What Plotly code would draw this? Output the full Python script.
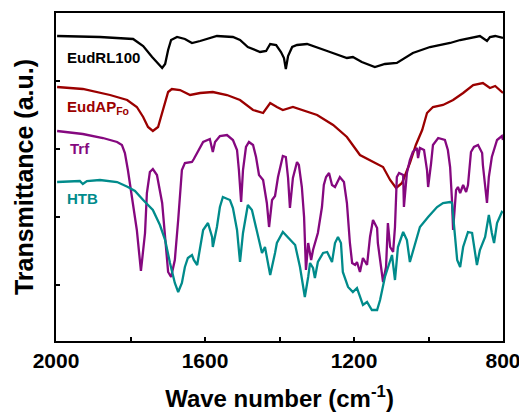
import plotly.graph_objects as go

# ---- data (wavenumber cm^-1, transmittance a.u.) ----
eud_rl_w = [1997, 1882, 1793, 1766, 1742, 1729, 1715, 1707, 1699, 1691, 1675, 1654, 1635, 1613, 1568, 1525,
            1506, 1485, 1452, 1436, 1425, 1409, 1396, 1388, 1383, 1377, 1366, 1353, 1326, 1272, 1219, 1203,
            1179, 1144, 1117, 1085, 1042, 996, 969, 942, 915, 880, 862, 843, 835, 821, 800]
eud_rl_t = [305, 304, 302, 295, 284, 279, 273, 277, 291, 301, 304, 302, 298, 300, 305, 304,
            301, 294, 289, 290, 297, 296, 289, 283, 272, 285, 294, 296, 297, 290, 283, 284,
            279, 274, 277, 278, 288, 294, 296, 298, 301, 304, 305, 300, 304, 305, 303]

eud_ap_w = [1997, 1928, 1855, 1809, 1783, 1766, 1753, 1740, 1726, 1713, 1699, 1689, 1667, 1640, 1613, 1579,
            1541, 1506, 1471, 1444, 1425, 1407, 1391, 1364, 1337, 1299, 1256, 1219, 1184, 1149, 1122, 1103,
            1087, 1071, 1050, 1034, 1017, 1004, 988, 961, 934, 907, 880, 854, 835, 821, 800]
eud_ap_t = [254, 252, 246, 241, 234, 224, 214, 210, 214, 231, 249, 252, 251, 246, 248, 249,
            246, 241, 231, 228, 238, 234, 231, 234, 231, 226, 216, 204, 186, 179, 174, 161,
            153, 158, 178, 196, 211, 228, 234, 236, 241, 248, 256, 258, 253, 255, 248]

trf_w = [1997, 1928, 1874, 1836, 1823, 1815, 1807, 1796, 1783, 1772, 1761, 1756, 1748, 1740, 1729, 1715,
         1707, 1699, 1691, 1681, 1672, 1662, 1654, 1635, 1630, 1619, 1605, 1587, 1579, 1573, 1560, 1541,
         1525, 1514, 1509, 1503, 1498, 1490, 1482, 1471, 1463, 1455, 1444, 1434, 1428, 1420, 1412, 1404,
         1391, 1383, 1377, 1372, 1364, 1353, 1348, 1340, 1334, 1329, 1323, 1315, 1310, 1297, 1286, 1281,
         1275, 1267, 1259, 1251, 1238, 1227, 1219, 1211, 1205, 1197, 1192, 1184, 1176, 1165, 1157, 1149,
         1138, 1136, 1125, 1122, 1114, 1109, 1103, 1095, 1090, 1085, 1079, 1068, 1066, 1058, 1050, 1042,
         1031, 1028, 1023, 1012, 1004, 1001, 993, 988, 974, 956, 948, 942, 937, 934, 926, 921,
         915, 907, 899, 894, 886, 878, 867, 856, 854, 843, 838, 830, 816, 803, 800]
trf_t = [210, 207, 203, 199, 196, 188, 171, 144, 111, 70, 108, 148, 169, 172, 166, 138,
         104, 69, 64, 81, 121, 171, 178, 179, 182, 189, 199, 202, 189, 199, 205, 206,
         201, 191, 171, 139, 171, 194, 199, 196, 184, 166, 161, 138, 114, 141, 145, 164,
         185, 184, 163, 133, 163, 179, 176, 154, 124, 71, 98, 81, 91, 108, 134, 156,
         164, 168, 156, 154, 164, 159, 138, 98, 78, 76, 79, 69, 83, 76, 104, 121,
         113, 98, 64, 59, 74, 118, 94, 89, 114, 164, 168, 166, 134, 168, 181, 189,
         193, 183, 193, 191, 171, 154, 178, 196, 203, 201, 191, 174, 141, 111, 151, 154,
         148, 156, 149, 156, 189, 194, 196, 188, 176, 138, 164, 184, 201, 205, 201]

htb_w = [1997, 1962, 1936, 1928, 1917, 1882, 1836, 1807, 1788, 1766, 1740, 1721, 1707, 1694, 1681, 1672,
         1662, 1654, 1646, 1635, 1630, 1621, 1613, 1605, 1592, 1581, 1579, 1568, 1560, 1552, 1533, 1525,
         1514, 1506, 1498, 1485, 1474, 1460, 1447, 1439, 1425, 1412, 1407, 1391, 1372, 1358, 1345, 1332,
         1323, 1318, 1310, 1305, 1297, 1283, 1272, 1259, 1251, 1243, 1235, 1230, 1216, 1203, 1192, 1184,
         1176, 1165, 1152, 1138, 1130, 1117, 1103, 1098, 1090, 1082, 1068, 1058, 1050, 1039, 1023, 1001,
         977, 961, 942, 937, 932, 923, 915, 907, 894, 883, 870, 862, 848, 838, 830, 824, 816, 803, 800]
htb_t = [159, 160, 160, 157, 160, 161, 159, 154, 150, 141, 131, 116, 101, 78, 58, 49,
         58, 74, 83, 86, 81, 76, 94, 111, 118, 104, 94, 114, 134, 144, 141, 133,
         111, 79, 108, 136, 131, 108, 88, 94, 66, 88, 98, 109, 101, 96, 74, 44,
         64, 78, 73, 63, 79, 88, 89, 79, 98, 104, 98, 69, 54, 49, 53, 44,
         36, 39, 31, 31, 41, 64, 81, 86, 61, 94, 109, 101, 79, 94, 114, 124,
         134, 138, 139, 138, 118, 81, 74, 94, 109, 108, 76, 91, 104, 126, 108, 98, 118, 129, 128]

series_names = ["EudRL100", "EudAP<sub>Fo</sub>", "Trf", "HTB"]
series_colors = ["#000000", "#9B0000", "#85087F", "#008B8B"]
label_pos = [(1976, 284), (1976, 234), (1968, 193), (1976, 143)]

x_tick_vals = [2000, 1600, 1200, 800]
y_tick_vals = [56, 124, 192, 260]

FONT = "Arial, 'Liberation Sans', sans-serif"

fig = go.Figure()
for (w, t), c in zip([(eud_rl_w, eud_rl_t), (eud_ap_w, eud_ap_t), (trf_w, trf_t), (htb_w, htb_t)],
                     series_colors):
    fig.add_trace(go.Scatter(x=w, y=t, mode="lines", line=dict(color=c, width=2.3),
                             showlegend=False, hoverinfo="skip"))

for name, c, (lx, ly) in zip(series_names, series_colors, label_pos):
    fig.add_annotation(x=lx, y=ly, xref="x", yref="y", text="<b>" + name + "</b>",
                       showarrow=False, xanchor="left", yanchor="middle",
                       font=dict(family=FONT, size=15, color=c))

# page body has an 8px default margin: figure is sized/offset to compensate
fig.update_layout(
    width=519, height=404,
    margin=dict(l=48, r=24, t=5, b=71),
    paper_bgcolor="white", plot_bgcolor="white",
    font=dict(family=FONT, color="black"),
    xaxis=dict(range=[2000, 800], tickvals=x_tick_vals,
               ticks="inside", ticklen=4, tickwidth=2, tickcolor="black",
               minor=dict(dtick=200, tick0=800, ticks="inside", ticklen=4, tickwidth=2, tickcolor="black"),
               showline=True, mirror=True, linewidth=2, linecolor="black",
               showgrid=False, zeroline=False, automargin=False,
               tickfont=dict(family=FONT, size=21, color="black", weight="bold"),
               title=dict(text="<b>Wave number (cm<sup>-1</sup>)</b>", standoff=22,
                          font=dict(family=FONT, size=24, color="black"))),
    yaxis=dict(range=[0, 328], tickvals=y_tick_vals, showticklabels=False,
               ticks="inside", ticklen=4, tickwidth=2, tickcolor="black",
               showline=True, mirror=True, linewidth=2, linecolor="black",
               showgrid=False, zeroline=False, automargin=False,
               title=dict(text="<b>Transmittance (a.u.)</b>", standoff=13,
                          font=dict(family=FONT, size=25, color="black"))),
)

fig.write_html("out.html")
